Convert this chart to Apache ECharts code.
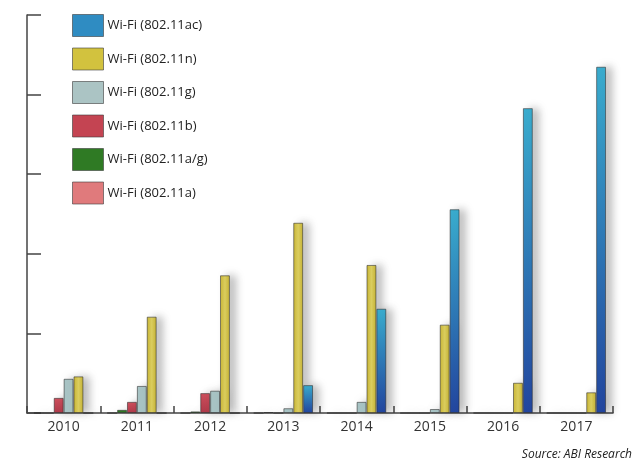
<!DOCTYPE html>
<html><head><meta charset="utf-8">
<script src="https://cdn.jsdelivr.net/npm/echarts@6/dist/echarts.min.js"></script>
<style>html,body{margin:0;padding:0;background:#fff}#c{width:641px;height:469px}</style>
</head><body><div id="c"></div>
<script>
var categories = ['2010','2011','2012','2013','2014','2015','2016','2017'];
var wifiA  = [0, 0, 0, 0, 0, 0, 0, 0];
var wifiAG = [0, 4, 2, 1, 0, 0, 0, 0];
var wifiB  = [19, 14, 25, 0, 0, 0, 0, 0];
var wifiG  = [43, 34, 28, 6, 14, 5, 0, 0];
var wifiN  = [46, 121, 173, 239, 186, 111, 38, 26];
var wifiAC = [0, 0, 0, 35, 131, 256, 383, 435];
var names = ['Wi-Fi (802.11ac)','Wi-Fi (802.11n)','Wi-Fi (802.11g)','Wi-Fi (802.11b)','Wi-Fi (802.11a/g)','Wi-Fi (802.11a)'];
var legendColors = ['#2f8cc2','#d2c23e','#abc4c4','#c44452','#2f7a24','#e07a7c'];

function grad(top, bottom){
  return new echarts.graphic.LinearGradient(0,0,0,1,[{offset:0,color:top},{offset:1,color:bottom}]);
}
function hgrad(edge, mid){
  return new echarts.graphic.LinearGradient(0,0,1,0,[{offset:0,color:edge},{offset:0.5,color:mid},{offset:1,color:edge}]);
}
function mk(name, data, color){
  return {
    name: name, type: 'bar', data: data,
    barGap: '0%', barCategoryGap: '19%',
    itemStyle: {
      color: color,
      borderColor: 'rgba(40,40,40,0.55)', borderWidth: 1,
      shadowColor: 'rgba(0,0,0,0.28)', shadowBlur: 8, shadowOffsetX: 6, shadowOffsetY: 0
    },
    emphasis: {disabled: true}
  };
}
var chart = echarts.init(document.getElementById('c'), null, {renderer:'canvas'});
chart.setOption({
  animation: false,
  backgroundColor: '#ffffff',
  grid: {left: 27, right: 28, top: 15, bottom: 56},
  legend: {
    orient: 'vertical', left: 72, top: 14, padding: 0,
    itemWidth: 31, itemHeight: 22, itemGap: 10.5,
    icon: 'rect',
    data: names.map(function(n, i){ return {name: n, itemStyle: {color: legendColors[i]}}; }),
    textStyle: {fontFamily: 'Open Sans', fontSize: 13, color: '#222', padding: [0,0,0,-1]},
    itemStyle: {borderColor: 'rgba(60,60,60,0.6)', borderWidth: 1, shadowBlur: 0}
  },
  xAxis: {
    type: 'category', data: categories,
    axisLine: {lineStyle: {color: '#444', width: 1.5}},
    axisTick: {show: true, inside: true, length: 7, lineStyle: {color: '#444', width: 1.5}},
    axisLabel: {fontFamily: 'Open Sans', fontSize: 14, color: '#333', margin: 7}
  },
  yAxis: {
    type: 'value', min: 0, max: 500, interval: 100,
    axisLine: {show: true, lineStyle: {color: '#444', width: 1.5}},
    axisTick: {show: true, inside: true, length: 14, lineStyle: {color: '#444', width: 1.5}},
    axisLabel: {show: false},
    splitLine: {show: false}
  },
  graphic: [{
    type: 'text', right: 9, bottom: 8,
    style: {text: 'Source: ABI Research', font: 'italic 12px "Open Sans"', fill: '#222'}
  }],
  series: [
    mk(names[5], wifiA, '#e07a7c'),
    mk(names[4], wifiAG, '#2f7a24'),
    mk(names[3], wifiB, grad('#d0505e','#b03a4a')),
    mk(names[2], wifiG, '#a9c5c6'),
    mk(names[1], wifiN, hgrad('#c9b534','#ddd060')),
    mk(names[0], wifiAC, grad('#3aaed0','#2346a0'))
  ]
});
</script></body></html>
